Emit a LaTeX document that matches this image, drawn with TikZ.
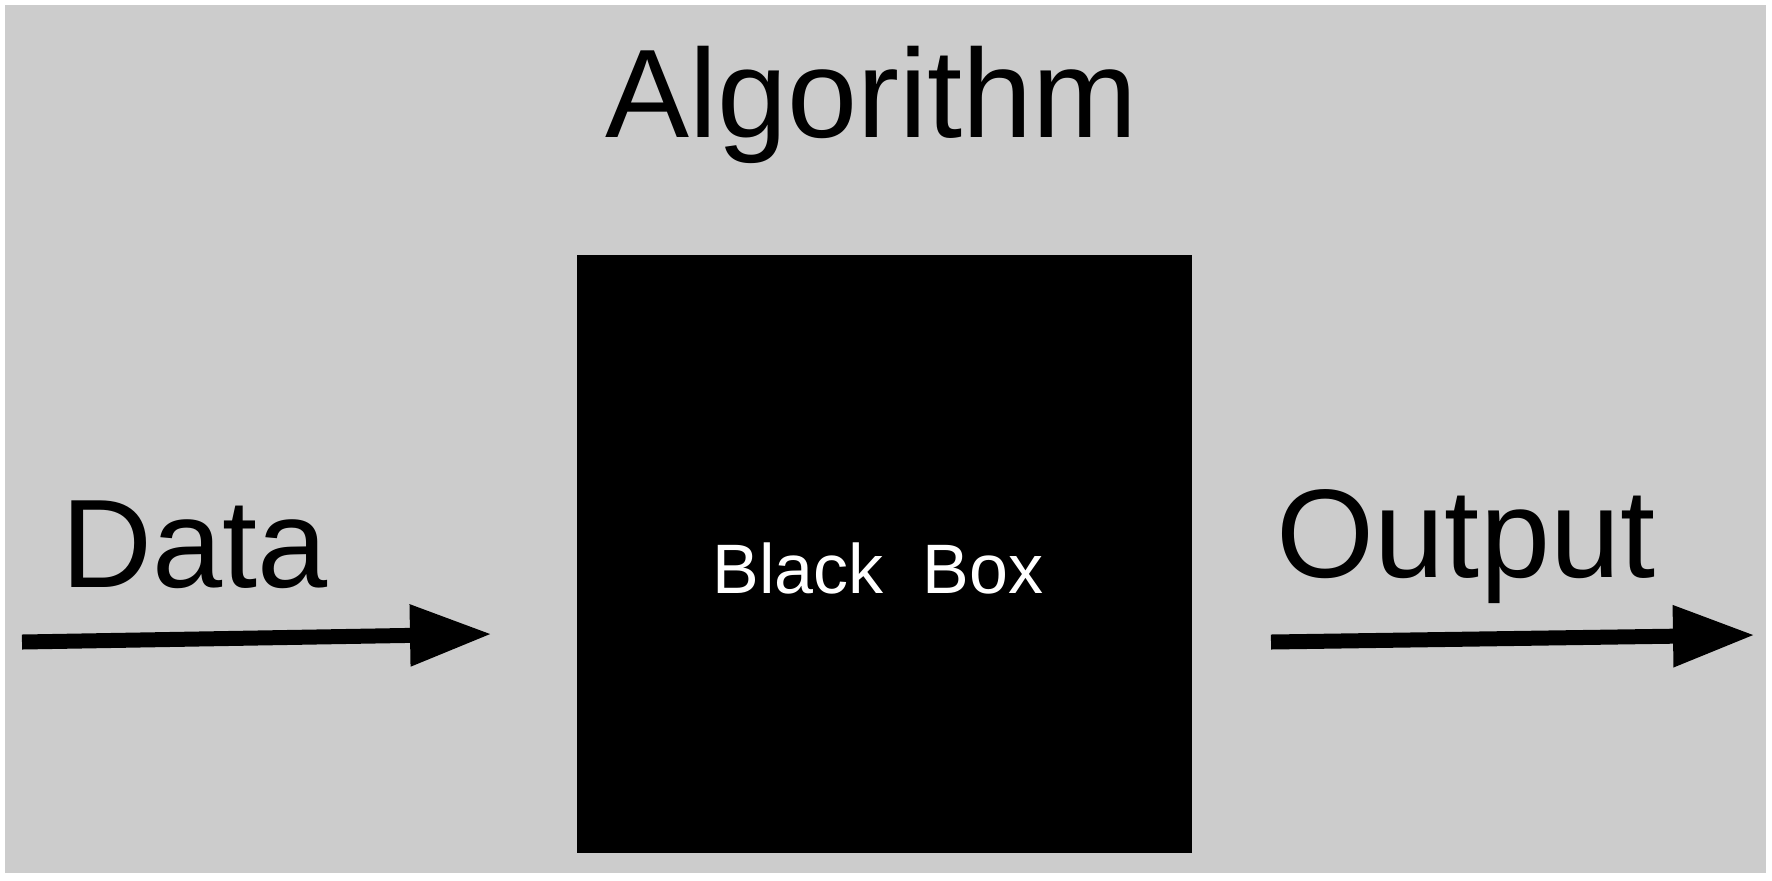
\documentclass[tikz,border=0pt]{standalone}
\usepackage{fontspec}
\setmainfont{Liberation Sans}
\usetikzlibrary{arrows.meta}
\definecolor{bggray}{RGB}{204,204,204}
\tikzset{
  bigtext/.style={inner sep=0pt, anchor=base, font=\fontsize{63pt}{63pt}\selectfont, text=black},
  boxtext/.style={inner sep=0pt, anchor=base, font=\fontsize{35pt}{35pt}\selectfont, text=white},
  bbox/.style={fill=black, draw=none, inner sep=0pt, minimum width=307.5pt, minimum height=299pt, anchor=north west},
  flow/.style={line width=7.5pt, -{Triangle[length=41pt, width=29pt]}, black}
}
\begin{document}
\begin{tikzpicture}[x=0.5pt,y=-0.5pt]
  \useasboundingbox (0,0) rectangle (1772,880);
  \fill[white] (0,0) rectangle (1772,880);
  \fill[bggray] (5,5) rectangle (1766,873);
  \node[bbox] (box) at (577,255) {};
  \node[boxtext] (bblabel) at (878,593) {Black\ \ Box};
  \node[bigtext] (alg) at (871.5,137) {Algorithm};
  \node[bigtext] (data) at (195,587) {Data};
  \node[bigtext] (out) at (1466,577) {Output};
  \coordinate (inS) at (22,642);
  \coordinate (inE) at (492,634);
  \coordinate (outS) at (1271,642);
  \coordinate (outE) at (1755,635);
  \draw[flow] (inS) -- (inE);
  \draw[flow] (outS) -- (outE);
\end{tikzpicture}
\end{document}
